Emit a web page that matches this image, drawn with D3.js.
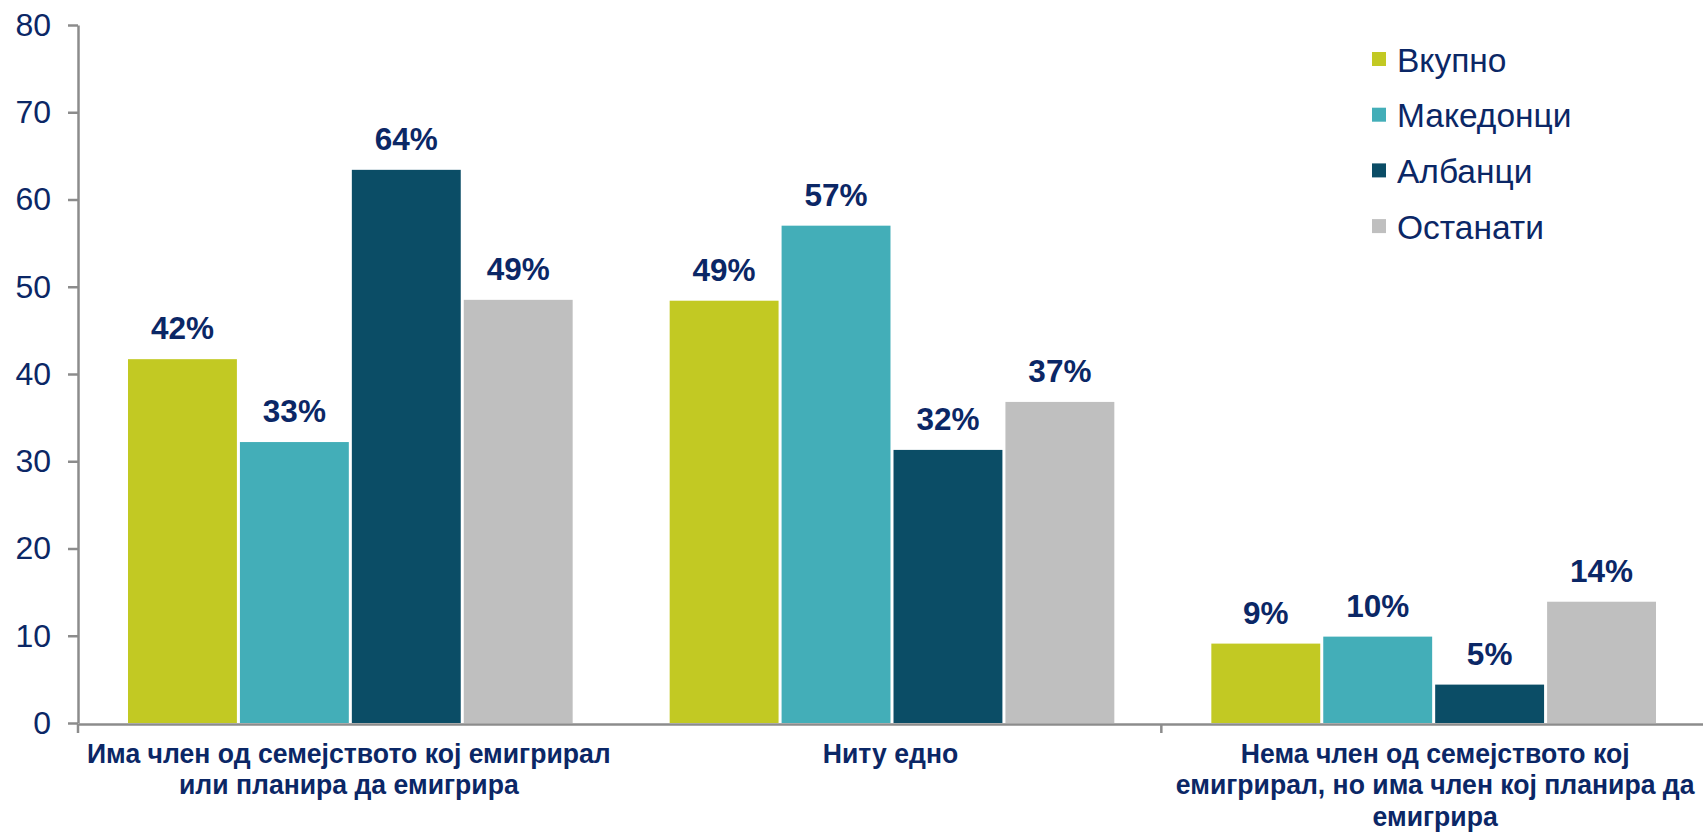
<!DOCTYPE html>
<html>
<head>
<meta charset="utf-8">
<script src="https://cdn.jsdelivr.net/npm/d3@7"></script>
<style>
  html, body { margin: 0; padding: 0; background: #fff; }
  svg { display: block; }
  text { font-family: "Liberation Sans", Arial, sans-serif; }
</style>
</head>
<body>
<svg id="chart" width="1703" height="832"></svg>
<script>
const categories = [
  "Има член од семејството кој емигрирал или планира да емигрира",
  "Ниту едно",
  "Нема член од семејството кој емигрирал, но има член кој планира да емигрира"
];
const categoryLines = [
  ["Има член од семејството кој емигрирал", "или планира да емигрира"],
  ["Ниту едно"],
  ["Нема член од семејството кој", "емигрирал, но има член кој планира да", "емигрира"]
];
const seriesNames = ["Вкупно", "Македонци", "Албанци", "Останати"];
const vkupno    = [41.7, 48.4, 9.1];
const makedonci = [32.2, 57.0, 9.9];
const albanci   = [63.4, 31.3, 4.4];
const ostanati  = [48.5, 36.8, 13.9];
const labelsVkupno    = ["42%", "49%", "9%"];
const labelsMakedonci = ["33%", "57%", "10%"];
const labelsAlbanci   = ["64%", "32%", "5%"];
const labelsOstanati  = ["49%", "37%", "14%"];
const yTicks = [0, 10, 20, 30, 40, 50, 60, 70, 80];

const colors = ["#c2c923", "#43aeb8", "#0b4d66", "#bfbfbf"];
const navy = "#0b2766";

const seriesValues = [vkupno, makedonci, albanci, ostanati];
const seriesLabels = [labelsVkupno, labelsMakedonci, labelsAlbanci, labelsOstanati];

const svg = d3.select("#chart");
const plotLeft = 78, plotRight = 1703, plotTop = 25, plotBottom = 723;

const y = d3.scaleLinear().domain([0, 80]).range([plotBottom, plotTop]);
const x0 = d3.scaleBand().domain(categories).range([plotLeft, plotRight]).paddingInner(0).paddingOuter(0);
const bw = x0.bandwidth();
const x1 = d3.scaleBand().domain(seriesNames).range([50, bw - 47]).paddingInner(0.027).paddingOuter(0);

const data = [];
categories.forEach((c, ci) => {
  seriesNames.forEach((s, si) => {
    data.push({ c, s, si, v: seriesValues[si][ci], label: seriesLabels[si][ci] });
  });
});

const g = svg.append("g");
g.selectAll("rect.bar").data(data).enter().append("rect")
  .attr("class", "bar")
  .attr("x", d => x0(d.c) + x1(d.s))
  .attr("y", d => y(d.v))
  .attr("width", x1.bandwidth())
  .attr("height", d => y(0) - y(d.v))
  .attr("fill", d => colors[d.si]);

g.selectAll("text.val").data(data).enter().append("text")
  .attr("class", "val")
  .attr("x", d => x0(d.c) + x1(d.s) + x1.bandwidth() / 2)
  .attr("y", d => y(d.v) - 20)
  .attr("text-anchor", "middle")
  .attr("font-size", 31.5)
  .attr("font-weight", "bold")
  .attr("fill", navy)
  .text(d => d.label);

// y axis
const yAxis = d3.axisLeft(y).tickValues(yTicks).tickSize(10).tickSizeOuter(0).tickPadding(17);
const ya = svg.append("g").attr("transform", `translate(${plotLeft},0)`).call(yAxis);
ya.select(".domain").attr("stroke", "#8c8c8c").attr("stroke-width", 2.5);
ya.selectAll(".tick line").attr("stroke", "#8c8c8c").attr("stroke-width", 2.5);
ya.selectAll(".tick text").attr("font-size", 32).attr("fill", navy)
  .attr("font-family", "'Liberation Sans', Arial, sans-serif");

// x axis
const xAxis = d3.axisBottom(x0).tickSize(0).tickFormat("");
const xa = svg.append("g").attr("transform", `translate(0,${plotBottom + 1})`).call(xAxis);
xa.select(".domain").attr("stroke", "#8c8c8c").attr("stroke-width", 2.5);
const boundaryTicks = [categories[0], categories[2]];
xa.selectAll("line.bt").data(boundaryTicks).enter().append("line")
  .attr("class", "bt")
  .attr("x1", d => x0(d)).attr("x2", d => x0(d))
  .attr("y1", 0).attr("y2", 9)
  .attr("stroke", "#8c8c8c").attr("stroke-width", 2.5);

// category labels
categories.forEach((c, ci) => {
  const cx = x0(c) + bw / 2 + (ci === 2 ? 3 : 0);
  const t = svg.append("text")
    .attr("transform", `translate(${cx},763) scale(0.95,1)`)
    .attr("text-anchor", "middle")
    .attr("font-size", 28)
    .attr("font-weight", "bold")
    .attr("fill", navy);
  categoryLines[ci].forEach((ln, li) => {
    t.append("tspan").attr("x", 0).attr("y", li * 31.5).text(ln);
  });
});

// legend
const lg = svg.append("g").attr("transform", "translate(1372,52)");
seriesNames.forEach((s, i) => {
  const row = lg.append("g").attr("transform", `translate(0,${i * 55.7})`);
  row.append("rect").attr("x", 0).attr("y", 0).attr("width", 14).attr("height", 14).attr("fill", colors[i]);
  row.append("text").attr("x", 25).attr("y", 19.5).attr("font-size", 33.5).attr("fill", navy).text(s);
});
</script>
</body>
</html>
